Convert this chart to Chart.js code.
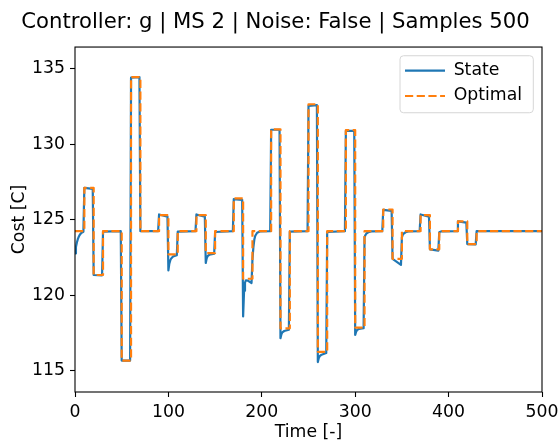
<!DOCTYPE html>
<html><head><meta charset="utf-8">
<script src="https://cdn.jsdelivr.net/npm/chart.js@4.4.1/dist/chart.umd.min.js"></script>
<style>html,body{margin:0;padding:0;background:#fff;}canvas{display:block;}</style>
</head><body>
<canvas id="c" width="559" height="441"></canvas>
<script>
const chartTitle = 'Controller: g | MS 2 | Noise: False | Samples 500';
const xAxisLabel = 'Time [-]';
const yAxisLabel = 'Cost [C]';
const seriesNames = ['State', 'Optimal'];
const xTicks = [0, 100, 200, 300, 400, 500];
const yTicks = [115, 120, 125, 130, 135];

const optimalTime = [0,10,20,30,50,60,70,90,100,110,130,140,150,170,180,190,210,220,230,250,260,270,290,300,310,330,340,350,370,380,390,410,420,430,500];
const optimalCost = [124.25,127.12,121.35,124.25,115.68,134.46,124.25,125.32,122.72,124.25,125.32,122.8,124.25,126.42,121.1,124.25,131.0,117.82,124.25,132.66,116.26,124.25,130.94,117.87,124.25,125.69,122.42,124.25,125.32,123.05,124.25,124.9,123.4,124.25,124.25];

const stateTime = [0,1,2,3,4,5,6,7,9,
  10,19,20,29,30,49,50,59,60,69,70,89,90,99,
  100,101,102,103,105,109,110,129,130,139,
  140,141,142,144,149,150,169,170,179,
  180,181,182,183,185,189,190,191,192,193,195,198,209,210,219,
  220,221,222,224,229,230,249,250,259,
  260,261,262,264,269,270,289,290,299,
  300,301,302,304,309,310,311,312,314,317,329,330,339,
  340,349,350,351,352,354,357,369,370,379,
  380,389,390,392,409,410,419,420,429,430,499];
const stateCost = [122.78,123.2,123.5,123.72,123.88,124.0,124.08,124.15,124.22,
  127.12,127.05,121.35,121.33,124.22,124.25,115.68,115.68,134.42,134.46,124.25,124.25,125.36,125.22,
  121.65,122.1,122.32,122.45,122.58,122.66,124.22,124.25,125.36,125.22,
  122.15,122.45,122.6,122.7,122.76,124.2,124.25,126.38,126.33,
  118.6,120.3,120.85,121.0,120.98,120.82,122.4,123.2,123.7,123.95,124.15,124.23,124.25,130.97,130.97,
  117.16,117.42,117.55,117.64,117.72,124.22,124.25,132.55,132.6,
  115.58,115.85,115.97,116.07,116.18,124.2,124.25,130.9,130.9,
  117.38,117.6,117.7,117.78,117.83,123.85,124.0,124.1,124.18,124.24,124.25,125.66,125.6,
  122.42,122.02,123.85,124.02,124.1,124.18,124.24,124.25,125.36,125.22,
  123.05,122.97,124.18,124.24,124.25,124.9,124.82,123.4,123.38,124.25,124.25];

const FONT = 'DejaVu Sans';
const tickFont = {family: FONT, size: 17.3};
const labelFont = {family: FONT, size: 17.3};

const mplPlugin = {
  id: 'mplLook',
  afterLayout(chart) {
    const lg = chart.legend, a = chart.chartArea;
    if (!lg) return;
    const left = a.right - 145, top = a.top + 7;
    lg.left = left; lg.top = top; lg.right = left + 200; lg.bottom = top + 90;
  },
  beforeDraw(chart) {
    const ctx = chart.ctx, a = chart.chartArea;
    const w = 133.3, h = 57, r = 3.5;
    const x = a.right - 8.7 - w, y = a.top + 8.7;
    ctx.save();
    ctx.beginPath();
    ctx.moveTo(x + r, y);
    ctx.arcTo(x + w, y, x + w, y + h, r);
    ctx.arcTo(x + w, y + h, x, y + h, r);
    ctx.arcTo(x, y + h, x, y, r);
    ctx.arcTo(x, y, x + w, y, r);
    ctx.closePath();
    ctx.fillStyle = 'rgba(255,255,255,0.8)';
    ctx.fill();
    ctx.lineWidth = 1;
    ctx.strokeStyle = '#d6d6d6';
    ctx.stroke();
    ctx.restore();
  },
  afterDatasetsDraw(chart) {
    const ctx = chart.ctx, a = chart.chartArea;
    ctx.save();
    ctx.lineWidth = 1.1;
    ctx.strokeStyle = '#000';
    ctx.strokeRect(a.left, a.top, a.right - a.left, a.bottom - a.top);
    ctx.restore();
  }
};

new Chart(document.getElementById('c'), {
  type: 'line',
  data: {
    datasets: [
      {
        label: seriesNames[0],
        data: stateTime.map((t, i) => ({x: t, y: stateCost[i]})),
        borderColor: '#1f77b4', backgroundColor: '#1f77b4',
        borderWidth: 2.2, borderJoinStyle: 'round', pointRadius: 0, tension: 0, fill: false, order: 2
      },
      {
        label: seriesNames[1],
        data: optimalTime.map((t, i) => ({x: t, y: optimalCost[i]})),
        borderColor: '#ff7f0e', backgroundColor: '#ff7f0e',
        borderWidth: 2.2, borderDash: [8.2, 3.5], borderJoinStyle: 'round', pointRadius: 0,
        stepped: 'before', fill: false, order: 1
      }
    ]
  },
  options: {
    responsive: false, animation: false, devicePixelRatio: 1,
    layout: {padding: {left: 9, right: 17, top: 0, bottom: 0}},
    plugins: {
      title: {display: true, text: chartTitle, color: '#000',
        font: {family: FONT, size: 21.2, weight: 'normal'}, padding: {top: 10, bottom: 11.6}},
      legend: {
        display: true, position: 'chartArea', align: 'start', fullSize: false,
        labels: {
          color: '#000', font: labelFont, usePointStyle: true, pointStyle: 'line',
          pointStyleWidth: 40, padding: 8,
          sort: (a, b) => a.datasetIndex - b.datasetIndex,
          generateLabels: chart => Chart.defaults.plugins.legend.labels.generateLabels(chart).map(item => {
            const ds = chart.data.datasets[item.datasetIndex];
            item.lineDash = ds.borderDash || [];
            item.lineWidth = ds.borderWidth;
            item.strokeStyle = ds.borderColor;
            item.lineCap = 'butt';
            return item;
          })
        }
      },
      tooltip: {enabled: false}
    },
    scales: {
      x: {
        type: 'linear', min: 0, max: 500,
        afterBuildTicks: s => { s.ticks = xTicks.map(v => ({value: v})); },
        ticks: {color: '#000', font: tickFont, padding: 5, maxRotation: 0, autoSkip: false},
        grid: {display: true, drawOnChartArea: false, drawTicks: true, tickLength: 5, tickWidth: 1.1, tickColor: '#000'},
        border: {display: false},
        title: {display: true, text: xAxisLabel, color: '#000', font: labelFont, padding: {top: 0, bottom: -1.5}},
        afterFit: s => { s.height = 49; s.paddingLeft = 0; s.paddingRight = 0; }
      },
      y: {
        type: 'linear', min: 113.6, max: 136.45,
        afterBuildTicks: s => { s.ticks = yTicks.map(v => ({value: v})); },
        ticks: {color: '#000', font: tickFont, padding: 5, autoSkip: false},
        grid: {display: true, drawOnChartArea: false, drawTicks: true, tickLength: 5, tickWidth: 1.1, tickColor: '#000'},
        border: {display: false},
        title: {display: true, text: yAxisLabel, color: '#000', font: labelFont, padding: {top: 0.1, bottom: 0}},
        afterFit: s => { s.width = 66; s.paddingTop = 0; s.paddingBottom = 0; }
      }
    }
  },
  plugins: [mplPlugin]
});
</script>
</body></html>
